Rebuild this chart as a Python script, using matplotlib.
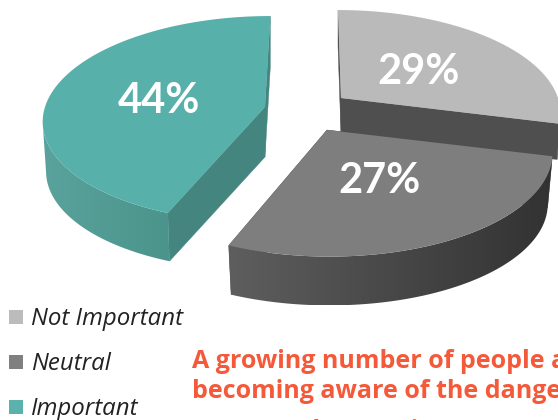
import numpy as np
import matplotlib
matplotlib.use("Agg")
import matplotlib.pyplot as plt
from matplotlib.colors import LinearSegmentedColormap
from matplotlib.patches import Polygon

# Survey shares, in percent, and their legend names
categories = ["Not Important", "Neutral", "Important"]
shares = [29, 27, 44]
value_labels = ["29%", "27%", "44%"]
headline = ["A growing number of people are", "becoming aware of the dangers of", "GMOs and are trying"]

top_colors = ["#bababa", "#7e7e7e", "#57b0a9"]
legend_colors = ["#bcbcbc", "#808080", "#5bb1ab"]
cut_colors = ["#4f4f4f", "#4f4f4f", "#45857f"]
rim_left = ["#6a6a6a", "#5e5e5e", "#5aa39c"]
rim_right = ["#3a3a3a", "#323232", "#4a948c"]

# Projection settings for each exploded slice:
# apex, radii, foreshortening, skew, thickness, and how far the underside narrows
slice_views = {
    "Not Important": dict(c=(341, 98), rx=217, ry=100, k=0.137, s=-3.4, d=36, b=0.99),
    "Neutral": dict(c=(327, 130), rx=220, ry=100, k=0.21, s=-2.0, d=52, b=0.98),
    "Important": dict(c=(265, 107), rx=220, ry=101.6, k=0.117, s=6.0, d=50, b=0.985),
}


def project(view, theta, r=1.0, drop=0.0):
    """Map clockwise angle from 12 o'clock on the pie plane to figure pixels."""
    X = r * np.sin(theta)
    Yf = -r * np.cos(theta)
    w = 1 - view["k"] * Yf
    x = view["c"][0] + (view["rx"] * X - view["s"] * Yf) / w
    y = view["c"][1] + view["ry"] * Yf / w + drop
    return np.array(x), np.array(y)


fig = plt.figure(figsize=(5.58, 4.2), dpi=100)
ax = fig.add_axes([0, 0, 1, 1])

# Slice spans: the first two run clockwise from the top, the last closes the circle
edges = np.deg2rad(np.cumsum([0] + shares) * 3.6)
spans = {categories[i]: (edges[i], edges[i + 1]) for i in range(3)}
spans["Important"] = (edges[2] - 2 * np.pi, edges[3] - 2 * np.pi)

for i in [2, 0, 1]:
    name = categories[i]
    view = slice_views[name]
    a0, a1 = spans[name]
    thetas = np.linspace(a0, a1, 200)
    rx, ry = project(view, thetas)
    cx, cy = view["c"]
    d = view["d"]

    # cut faces running from the apex out to the rim
    for a in (a0, a1):
        ex, ey = project(view, a)
        fx, fy = project(view, a, r=view["b"], drop=d)
        ax.fill([cx, ex, fx, cx], [cy, ey, fy, cy + d], color=cut_colors[i], lw=0.3, zorder=i * 3 + 1)

    # outer wall: the rim moves leftward only along its near side
    front = thetas[np.gradient(rx) < 0]
    wx, wy = project(view, front)
    bx, by = project(view, front, r=view["b"], drop=d)
    wall = Polygon(np.c_[np.r_[wx, bx[::-1]], np.r_[wy, by[::-1]]], closed=True,
                   transform=ax.transData, fc="none", ec="none")
    ax.add_patch(wall)
    cmap = LinearSegmentedColormap.from_list("rim", [rim_left[i], rim_right[i]])
    shade = ax.imshow(np.linspace(0, 1, 256)[None, :], cmap=cmap, aspect="auto",
                      extent=[min(wx.min(), bx.min()), max(wx.max(), bx.max()),
                              max(wy.max(), by.max()), min(wy.min(), by.min())],
                      zorder=i * 3 + 2)
    shade.set_clip_path(wall)

    # top face
    ax.fill(np.r_[cx, rx], np.r_[cy, ry], color=top_colors[i], lw=0, zorder=i * 3 + 3)

ax.set_xlim(0, 558)
ax.set_ylim(420, 0)
ax.axis("off")

# Percentages on the top faces
label_pos = {"Not Important": (419, 72), "Neutral": (379, 181), "Important": (159, 101)}
for name, txt in zip(categories, value_labels):
    ax.text(*label_pos[name], txt, color="white", fontsize=30, fontweight="bold",
            family="Lato", ha="center", va="center", zorder=20)

# Legend
legend_y = [317, 362, 407]
for name, col, y in zip(categories, legend_colors, legend_y):
    ax.scatter([16], [y], marker="s", s=105, color=col, lw=0, zorder=5)
    ax.text(31, y + 2, name, fontsize=17.3, style="italic", family="Open Sans", color="#222222",
            va="center", ha="left")

# Headline, running past the right and bottom edges
for line, y in zip(headline, [361, 392, 431]):
    ax.text(192, y, line, fontsize=18, fontweight="bold", family="Open Sans", color="#f4593a",
            va="center", ha="left")

fig.savefig("out.png", dpi=100)
